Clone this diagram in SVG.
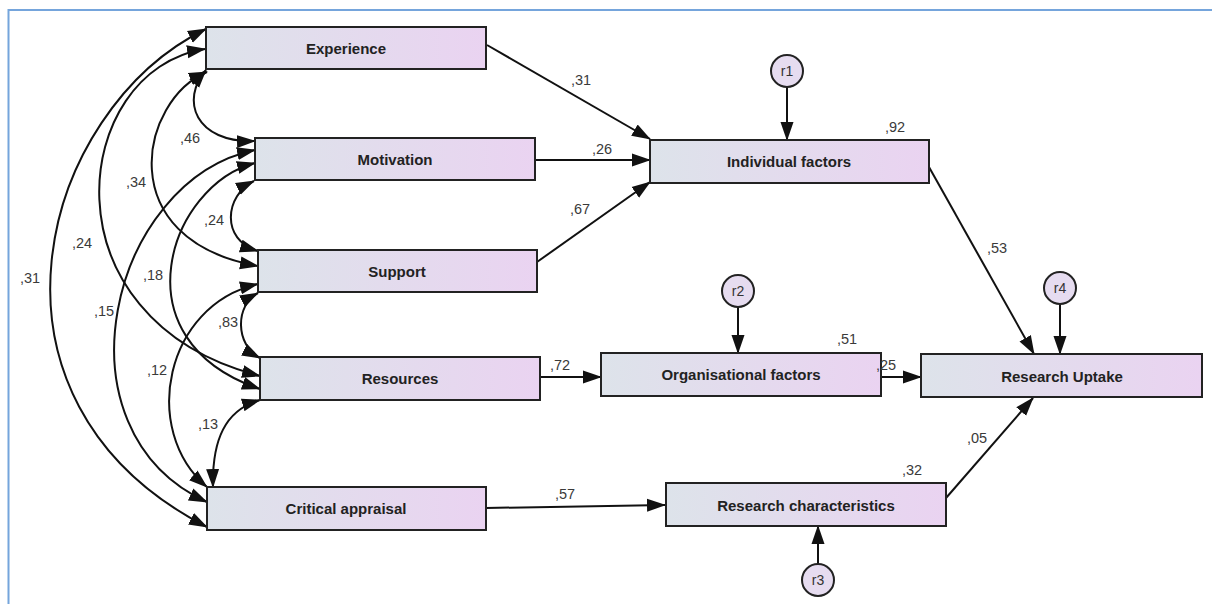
<svg xmlns="http://www.w3.org/2000/svg" width="1212" height="604" viewBox="0 0 1212 604">
  <defs>
    <linearGradient id="boxFill" x1="0" y1="0" x2="1" y2="0">
      <stop offset="0" stop-color="#dde3ea"/>
      <stop offset="1" stop-color="#ead3f1"/>
    </linearGradient>
    <marker id="arrow" markerUnits="userSpaceOnUse" markerWidth="19" markerHeight="14" viewBox="0 0 19 14" refX="18" refY="7" orient="auto-start-reverse">
      <path d="M0,0.5 L19,7 L0,13.5 z" fill="#111"/>
    </marker>
    <style>
      .box { fill: url(#boxFill); stroke: #222; stroke-width: 2; }
      .err { fill: #e6dcf0; stroke: #222; stroke-width: 2; }
      .name { font-family: "Liberation Sans", Arial, sans-serif; font-size: 15px; font-weight: bold; fill: #222; text-anchor: middle; dominant-baseline: central; }
      .ename { font-family: "Liberation Sans", Arial, sans-serif; font-size: 14px; fill: #333; text-anchor: middle; dominant-baseline: central; }
      .coef { font-family: "Liberation Sans", Arial, sans-serif; font-size: 14.5px; fill: #3a3a3a; }
      .path { fill: none; stroke: #111; stroke-width: 2; marker-end: url(#arrow); }
      .cov { fill: none; stroke: #111; stroke-width: 2; marker-start: url(#arrow); marker-end: url(#arrow); }
    </style>
  </defs>

  <!-- frame -->
  <rect x="8.5" y="10" width="1215" height="600" fill="#fff" stroke="#75a5dc" stroke-width="2"/>

  <!-- connectors -->
  <g id="connectors">
    <!-- covariances between exogenous variables -->
    <path class="cov" d="M206,29 C40,110 -40,400 207,527"/>
    <path class="cov" d="M205,49 C70,70 40,320 260,376"/>
    <path class="cov" d="M207,72 C140,100 110,240 258,266"/>
    <path class="cov" d="M206,70 C180,100 195,143 255,141"/>
    <path class="cov" d="M255,150 C110,180 50,430 207,502"/>
    <path class="cov" d="M255,163 C170,185 115,340 260,389"/>
    <path class="cov" d="M254,181 C225,195 220,240 258,251"/>
    <path class="cov" d="M258,284 C165,305 140,430 207,487"/>
    <path class="cov" d="M258,293 C235,305 235,345 260,358"/>
    <path class="cov" d="M260,400 C225,410 212,440 213,487"/>

    <!-- regression paths -->
    <path class="path" d="M487,45 L650,139"/>
    <path class="path" d="M535,160 L650,160"/>
    <path class="path" d="M537,262 L650,182"/>
    <path class="path" d="M540,377 L601,377"/>
    <path class="path" d="M486,508 L665,505"/>
    <path class="path" d="M881,377 L921,377"/>
    <path class="path" d="M929,167 L1034,354"/>
    <path class="path" d="M946,498 L1033,398"/>

    <!-- residuals -->
    <path class="path" d="M787,87 L787,140"/>
    <path class="path" d="M738,307 L738,353"/>
    <path class="path" d="M1060,304 L1060,354"/>
    <path class="path" d="M818,565 L818,526"/>
  </g>

  <!-- observed variables -->
  <g id="experience">
    <rect class="box" x="206" y="27" width="280" height="42"/>
    <text class="name" x="346" y="48">Experience</text>
  </g>
  <g id="motivation">
    <rect class="box" x="255" y="138" width="280" height="42"/>
    <text class="name" x="395" y="159">Motivation</text>
  </g>
  <g id="support">
    <rect class="box" x="258" y="250" width="279" height="42"/>
    <text class="name" x="397" y="271">Support</text>
  </g>
  <g id="resources">
    <rect class="box" x="260" y="357" width="280" height="43"/>
    <text class="name" x="400" y="378">Resources</text>
  </g>
  <g id="critical-appraisal">
    <rect class="box" x="207" y="487" width="279" height="43"/>
    <text class="name" x="346" y="508">Critical appraisal</text>
  </g>
  <g id="individual-factors">
    <rect class="box" x="650" y="140" width="279" height="43"/>
    <text class="name" x="789" y="161">Individual factors</text>
  </g>
  <g id="organisational-factors">
    <rect class="box" x="601" y="353" width="280" height="43"/>
    <text class="name" x="741" y="374">Organisational factors</text>
  </g>
  <g id="research-uptake">
    <rect class="box" x="921" y="354" width="281" height="43"/>
    <text class="name" x="1062" y="376">Research Uptake</text>
  </g>
  <g id="research-characteristics">
    <rect class="box" x="666" y="483" width="280" height="43"/>
    <text class="name" x="806" y="505">Research characteristics</text>
  </g>

  <!-- residual terms -->
  <g id="r1">
    <circle class="err" cx="787" cy="71" r="16"/>
    <text class="ename" x="787" y="71">r1</text>
  </g>
  <g id="r2">
    <circle class="err" cx="738" cy="291" r="16"/>
    <text class="ename" x="738" y="291">r2</text>
  </g>
  <g id="r3">
    <circle class="err" cx="818" cy="580" r="16"/>
    <text class="ename" x="818" y="580">r3</text>
  </g>
  <g id="r4">
    <circle class="err" cx="1060" cy="288" r="16"/>
    <text class="ename" x="1060" y="288">r4</text>
  </g>

  <!-- coefficients -->
  <g id="coefficients" class="coef">
    <text x="180" y="143">,46</text>
    <text x="126" y="187">,34</text>
    <text x="204" y="225">,24</text>
    <text x="72" y="248">,24</text>
    <text x="20" y="283">,31</text>
    <text x="143" y="280">,18</text>
    <text x="94" y="316">,15</text>
    <text x="218" y="327">,83</text>
    <text x="147" y="375">,12</text>
    <text x="198" y="429">,13</text>
    <text x="571" y="85">,31</text>
    <text x="592" y="154">,26</text>
    <text x="885" y="132">,92</text>
    <text x="570" y="214">,67</text>
    <text x="987" y="253">,53</text>
    <text x="550" y="370">,72</text>
    <text x="837" y="344">,51</text>
    <text x="876" y="370">,25</text>
    <text x="555" y="499">,57</text>
    <text x="902" y="475">,32</text>
    <text x="967" y="443">,05</text>
  </g>
</svg>
